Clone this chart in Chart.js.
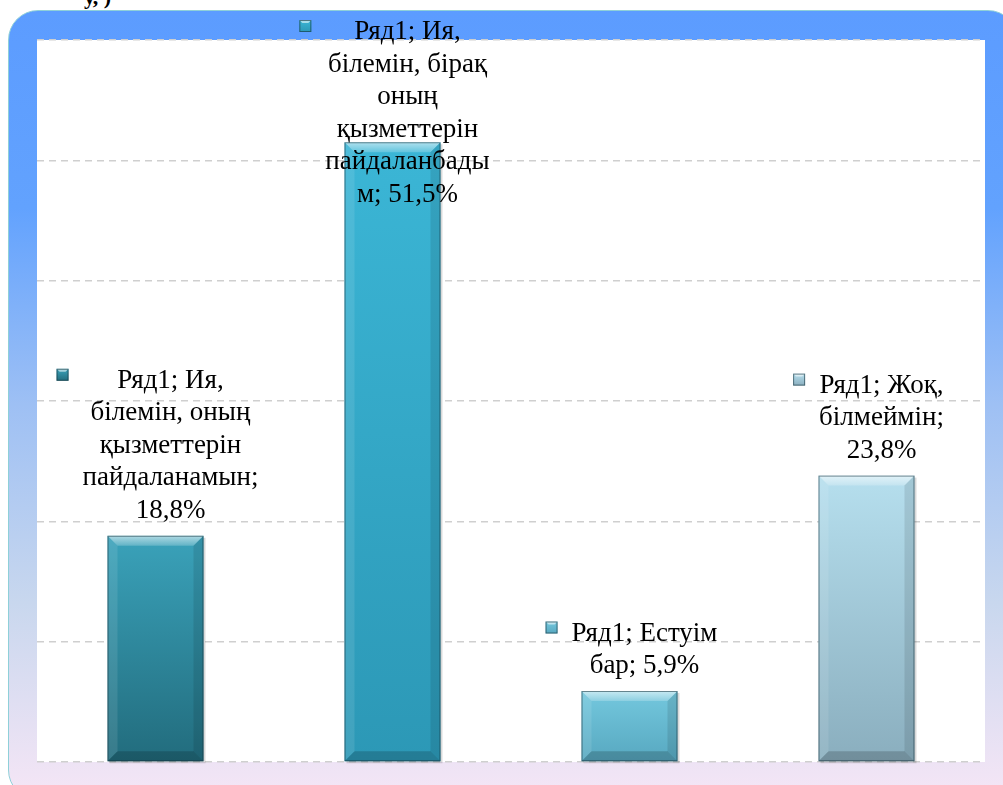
<!DOCTYPE html>
<html>
<head>
<meta charset="utf-8">
<script src="https://cdn.jsdelivr.net/npm/chart.js@4"></script>
<style>
  html, body { margin: 0; padding: 0; width: 1003px; height: 785px; overflow: hidden; background: #fff; }
  #frame {
    position: absolute; left: 8px; top: 10px; width: 1010px; height: 790px;
    border: 1px solid #8fd0d8; border-radius: 30px; box-sizing: border-box;
    background: linear-gradient(to bottom, #5c9cff 0%, #62a2fe 25%, #9ec0f4 50%, #c8d7ee 75%, #f6e6f6 100%);
  }
  #head {
    position: absolute; left: 84px; top: -16px; font: bold 22px "Liberation Serif", serif; color: #000;
  }
  #wrap { position: absolute; left: 0; top: 0; width: 1003px; height: 785px; }
</style>
</head>
<body>
<div id="frame"></div>
<div id="head">у, )</div>
<div id="wrap"><canvas id="c" width="1003" height="785"></canvas></div>
<script>
// категориялар мен мәндер
const categories = ['Ия, білемін, оның қызметтерін пайдаланамын', 'Ия, білемін, бірақ оның қызметтерін пайдаланбадым', 'Естуім бар', 'Жоқ, білмеймін'];
const values = [18.8, 51.5, 5.9, 23.8];
const seriesName = 'Ряд1';
// жапсырма жолдары (суреттегідей бөлінген)
const labelLines = [
  ['Ряд1; Ия,', 'білемін, оның', 'қызметтерін', 'пайдаланамын;', '18,8%'],
  ['Ряд1; Ия,', 'білемін, бірақ', 'оның', 'қызметтерін', 'пайдаланбады', 'м; 51,5%'],
  ['Ряд1; Естуім', 'бар; 5,9%'],
  ['Ряд1; Жоқ,', 'білмеймін;', '23,8%']
];
const yTicks = [0, 10, 20, 30, 40, 50, 60];

const barColors = [
  ['#3aa2ba', '#226c7d'],
  ['#3bb6d6', '#2c98b6'],
  ['#74c8de', '#57a8c0'],
  ['#b6dfee', '#8aaebe']
];

function gradFor(ctx, i, top, bottom) {
  const g = ctx.createLinearGradient(0, top, 0, bottom);
  g.addColorStop(0, barColors[i][0]);
  g.addColorStop(1, barColors[i][1]);
  return g;
}

// ақ фон
const plotBg = {
  id: 'plotBg',
  beforeDraw(chart) {
    const { ctx, chartArea: a } = chart;
    ctx.save();
    ctx.fillStyle = '#ffffff';
    ctx.fillRect(a.left, a.top, a.right - a.left, a.bottom - a.top);
    ctx.restore();
  }
};

// көлемді бағандар
const bevelBars = {
  id: 'bevelBars',
  afterDatasetsDraw(chart) {
    const ctx = chart.ctx;
    chart.getDatasetMeta(0).data.forEach((bar, i) => {
      const l = bar.x - bar.width / 2, r = bar.x + bar.width / 2;
      const t = bar.y, b = bar.base;
      const d = 10;
      ctx.save();
      // көлеңке
      ctx.fillStyle = 'rgba(0,0,0,0.15)';
      ctx.fillRect(l + 2, t + 2, r - l, b - t);
      ctx.fillStyle = gradFor(ctx, i, t, b);
      ctx.fillRect(l, t, r - l, b - t);
      // жоғарғы жиек
      const tg = ctx.createLinearGradient(0, t, 0, t + d);
      tg.addColorStop(0, 'rgba(255,255,255,0.6)');
      tg.addColorStop(1, 'rgba(255,255,255,0.2)');
      ctx.fillStyle = tg;
      ctx.beginPath();
      ctx.moveTo(l, t); ctx.lineTo(r, t); ctx.lineTo(r - d, t + d); ctx.lineTo(l + d, t + d); ctx.closePath();
      ctx.fill();
      // сол жиек
      ctx.fillStyle = 'rgba(255,255,255,0.1)';
      ctx.beginPath();
      ctx.moveTo(l, t); ctx.lineTo(l + d, t + d); ctx.lineTo(l + d, b - d); ctx.lineTo(l, b); ctx.closePath();
      ctx.fill();
      // оң жиек
      ctx.fillStyle = 'rgba(0,0,0,0.1)';
      ctx.beginPath();
      ctx.moveTo(r, t); ctx.lineTo(r - d, t + d); ctx.lineTo(r - d, b - d); ctx.lineTo(r, b); ctx.closePath();
      ctx.fill();
      // төменгі жиек
      ctx.fillStyle = 'rgba(0,0,0,0.18)';
      ctx.beginPath();
      ctx.moveTo(l, b); ctx.lineTo(r, b); ctx.lineTo(r - d, b - d); ctx.lineTo(l + d, b - d); ctx.closePath();
      ctx.fill();
      ctx.strokeStyle = 'rgba(20,50,60,0.55)';
      ctx.lineWidth = 1;
      ctx.strokeRect(l + 0.5, t + 0.5, r - l - 1, b - t - 1);
      ctx.restore();
    });
  }
};

// деректер жапсырмалары
const dataLabels = {
  id: 'dataLabels',
  afterDraw(chart) {
    const ctx = chart.ctx;
    const lh = 32.5;
    ctx.save();
    ctx.font = "27px 'Liberation Serif', 'DejaVu Serif', serif";
    ctx.textAlign = 'center';
    ctx.textBaseline = 'alphabetic';
    chart.getDatasetMeta(0).data.forEach((bar, i) => {
      const lines = labelLines[i];
      const cx = bar.x + 15;
      let first = bar.y - 18 - (lines.length - 1) * lh;
      if (first < 39) first = 39;
      let maxW = 0;
      ctx.fillStyle = '#000';
      lines.forEach((s, k) => {
        ctx.fillText(s, cx, first + k * lh);
        maxW = Math.max(maxW, ctx.measureText(s).width);
      });
      // маркер
      const mx = cx - maxW / 2 - 26, my = first - 19;
      const g = ctx.createLinearGradient(0, my, 0, my + 12);
      g.addColorStop(0, barColors[i][0]);
      g.addColorStop(1, barColors[i][1]);
      ctx.fillStyle = g;
      ctx.fillRect(mx, my, 12, 12);
      ctx.fillStyle = 'rgba(255,255,255,0.55)';
      ctx.beginPath();
      ctx.moveTo(mx, my); ctx.lineTo(mx + 12, my); ctx.lineTo(mx + 9, my + 3); ctx.lineTo(mx + 3, my + 3); ctx.closePath();
      ctx.fill();
      ctx.strokeStyle = 'rgba(20,50,60,0.6)';
      ctx.lineWidth = 1;
      ctx.strokeRect(mx + 0.5, my + 0.5, 11, 11);
    });
    ctx.restore();
  }
};

new Chart(document.getElementById('c'), {
  type: 'bar',
  data: {
    labels: categories,
    datasets: [{
      label: seriesName,
      data: values,
      backgroundColor: 'rgba(0,0,0,0)',
      borderWidth: 0,
      categoryPercentage: 1,
      barPercentage: 0.405
    }]
  },
  options: {
    responsive: false,
    animation: false,
    devicePixelRatio: 1,
    layout: { padding: { left: 37, top: 40, right: 18, bottom: 23 } },
    plugins: { legend: { display: false }, tooltip: { enabled: false } },
    scales: {
      x: { display: false },
      y: {
        min: 0, max: 60,
        afterBuildTicks(s) { s.ticks = yTicks.map(v => ({ value: v })); },
        afterFit(s) { s.width = 0; },
        ticks: { display: false },
        border: { display: false, dash: [7, 5] },
        grid: { color: '#cfcfcf', lineWidth: 1.5, drawTicks: false }
      }
    }
  },
  plugins: [plotBg, bevelBars, dataLabels]
});
</script>
</body>
</html>
